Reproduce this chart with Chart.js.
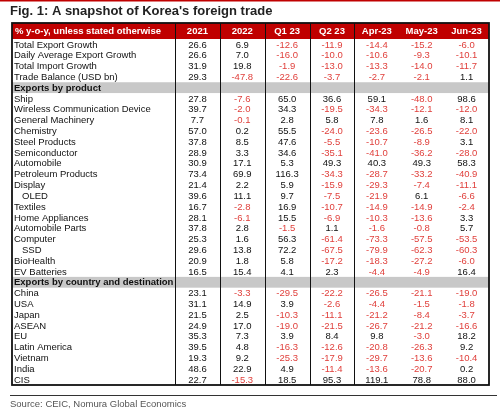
<!DOCTYPE html>
<html><head><meta charset="utf-8">
<script src="https://cdn.jsdelivr.net/npm/chart.js@4"></script>
<style>html,body{margin:0;padding:0;background:#fff}#w{width:500px;height:411px}</style>
</head><body><div id="w"><canvas id="c"></canvas></div>
<script>
const columns = ['2021','2022','Q1 23','Q2 23','Apr-23','May-23','Jun-23'];
const headerLabel = '% y-o-y, unless stated otherwise';
const headlineRows = ['Total Export Growth','Daily Average Export Growth','Total Import Growth','Trade Balance (USD bn)'];
const headlineValues = [
 [26.6,6.9,-12.6,-11.9,-14.4,-15.2,-6.0],
 [26.6,7.0,-16.0,-10.0,-10.6,-9.3,-10.1],
 [31.9,19.8,-1.9,-13.0,-13.3,-14.0,-11.7],
 [29.3,-47.8,-22.6,-3.7,-2.7,-2.1,1.1]];
const productSection = 'Exports by product';
const productRows = ['Ship','Wireless Communication Device','General Machinery','Chemistry','Steel Products','Semiconductor','Automobile','Petroleum Products','Display','   OLED','Textiles','Home Appliances','Automobile Parts','Computer','   SSD','BioHealth','EV Batteries'];
const productValues = [
 [27.8,-7.6,65.0,36.6,59.1,-48.0,98.6],
 [39.7,-2.0,34.3,-19.5,-34.3,-12.1,-12.0],
 [7.7,-0.1,2.8,5.8,7.8,1.6,8.1],
 [57.0,0.2,55.5,-24.0,-23.6,-26.5,-22.0],
 [37.8,8.5,47.6,-5.5,-10.7,-8.9,3.1],
 [28.9,3.3,34.6,-35.1,-41.0,-36.2,-28.0],
 [30.9,17.1,5.3,49.3,40.3,49.3,58.3],
 [73.4,69.9,116.3,-34.3,-28.7,-33.2,-40.9],
 [21.4,2.2,5.9,-15.9,-29.3,-7.4,-11.1],
 [39.6,11.1,9.7,-7.5,-21.9,6.1,-6.6],
 [16.7,-2.8,16.9,-10.7,-14.9,-14.9,-2.4],
 [28.1,-6.1,15.5,-6.9,-10.3,-13.6,3.3],
 [37.8,2.8,-1.5,1.1,-1.6,-0.8,5.7],
 [25.3,1.6,56.3,-61.4,-73.3,-57.5,-53.5],
 [29.6,13.8,72.2,-67.5,-79.9,-62.3,-60.3],
 [20.9,1.8,5.8,-17.2,-18.3,-27.2,-6.0],
 [16.5,15.4,4.1,2.3,-4.4,-4.9,16.4]];
const countrySection = 'Exports by country and destination';
const countryRows = ['China','USA','Japan','ASEAN','EU','Latin America','Vietnam','India','CIS'];
const countryValues = [
 [23.1,-3.3,-29.5,-22.2,-26.5,-21.1,-19.0],
 [31.1,14.9,3.9,-2.6,-4.4,-1.5,-1.8],
 [21.5,2.5,-10.3,-11.1,-21.2,-8.4,-3.7],
 [24.9,17.0,-19.0,-21.5,-26.7,-21.2,-16.6],
 [35.3,7.3,3.9,8.4,9.8,-3.0,18.2],
 [39.5,4.8,-16.3,-12.6,-20.8,-26.3,9.2],
 [19.3,9.2,-25.3,-17.9,-29.7,-13.6,-10.4],
 [48.6,22.9,4.9,-11.4,-13.6,-20.7,0.2],
 [22.7,-15.3,18.5,95.3,119.1,78.8,88.0]];

const rowLabels = [...headlineRows, productSection, ...productRows, countrySection, ...countryRows];
const sections = [productSection, countrySection];
const allValues = [...headlineValues, null, ...productValues, null, ...countryValues];
const points = [];
rowLabels.forEach((r,i)=>{ if(allValues[i]) allValues[i].forEach((v,j)=>points.push({x:columns[j],y:r,v})); });

const RED='#c00000', NEG='#e0403c', FONT='"Liberation Sans", Arial, sans-serif';
const tablePlugin = {
 id:'table',
 beforeDatasetsDraw(chart){
  const {ctx, chartArea:a, scales:{x,y}} = chart;
  const rh = (a.bottom-a.top)/rowLabels.length;
  const L=12, hTop=23;
  ctx.save();
  ctx.fillStyle=RED; ctx.fillRect(0,0,500,1.5);
  ctx.fillStyle='#222'; ctx.font='bold 13px '+FONT; ctx.textBaseline='middle'; ctx.textAlign='left';
  ctx.fillText("Fig. 1: A snapshot of Korea's foreign trade",10,11);
  ctx.fillStyle=RED; ctx.fillRect(L,hTop,a.right-L,a.top-hTop);
  ctx.fillStyle='#c8c8c8';
  sections.forEach(s=>{const yc=y.getPixelForValue(rowLabels.indexOf(s)); ctx.fillRect(L,yc-rh/2,a.right-L,rh);});
  ctx.strokeStyle='#111'; ctx.lineWidth=1;
  const cw=(a.right-a.left)/columns.length;
  [a.left, a.left+cw, a.left+2*cw, a.left+3*cw, a.left+4*cw].forEach(px=>{
   ctx.beginPath(); ctx.moveTo(Math.round(px)+0.5,hTop); ctx.lineTo(Math.round(px)+0.5,a.bottom); ctx.stroke();});
  ctx.lineWidth=1.8; ctx.strokeRect(L,hTop,a.right-L,a.bottom-hTop);
  ctx.fillStyle='#fff'; ctx.font='bold 9.5px '+FONT;
  ctx.textAlign='left'; ctx.fillText(headerLabel,L+3,(hTop+a.top)/2+0.5);
  ctx.textAlign='center';
  columns.forEach((c,j)=>ctx.fillText(c,x.getPixelForValue(j),(hTop+a.top)/2+0.5));
  ctx.textAlign='left';
  rowLabels.forEach((r,i)=>{
   const s=sections.includes(r);
   ctx.font=(s?'bold ':'')+'9.5px '+FONT; ctx.fillStyle='#111';
   const ind=r.startsWith('   ')?8:0;
   ctx.fillText(r.trim(),L+2+ind,y.getPixelForValue(i)+0.5);
  });
  ctx.strokeStyle='#333'; ctx.lineWidth=1; ctx.beginPath(); ctx.moveTo(10,395.5); ctx.lineTo(497,395.5); ctx.stroke();
  ctx.fillStyle='#555'; ctx.font='9.5px '+FONT; ctx.fillText('Source: CEIC, Nomura Global Economics',10,404);
  ctx.restore();
 },
 afterDatasetsDraw(chart){
  const {ctx}=chart; const meta=chart.getDatasetMeta(0);
  ctx.save(); ctx.font='9.5px '+FONT; ctx.textAlign='center'; ctx.textBaseline='middle';
  meta.data.forEach((el,i)=>{const v=points[i].v; ctx.fillStyle=v<0?NEG:'#111'; ctx.fillText(v.toFixed(1),el.x,el.y+0.5);});
  ctx.restore();
 }
};
new Chart(document.getElementById('c'),{
 type:'scatter',
 data:{datasets:[{data:points,pointRadius:0,pointHoverRadius:0}]},
 options:{responsive:true,maintainAspectRatio:false,animation:false,
  layout:{padding:{left:175,right:11,top:39,bottom:26}},
  plugins:{legend:{display:false},tooltip:{enabled:false}},
  scales:{
   x:{type:'category',labels:columns,offset:true,display:false},
   y:{type:'category',labels:rowLabels,offset:true,display:false}
  }},
 plugins:[tablePlugin]
});
</script></body></html>
